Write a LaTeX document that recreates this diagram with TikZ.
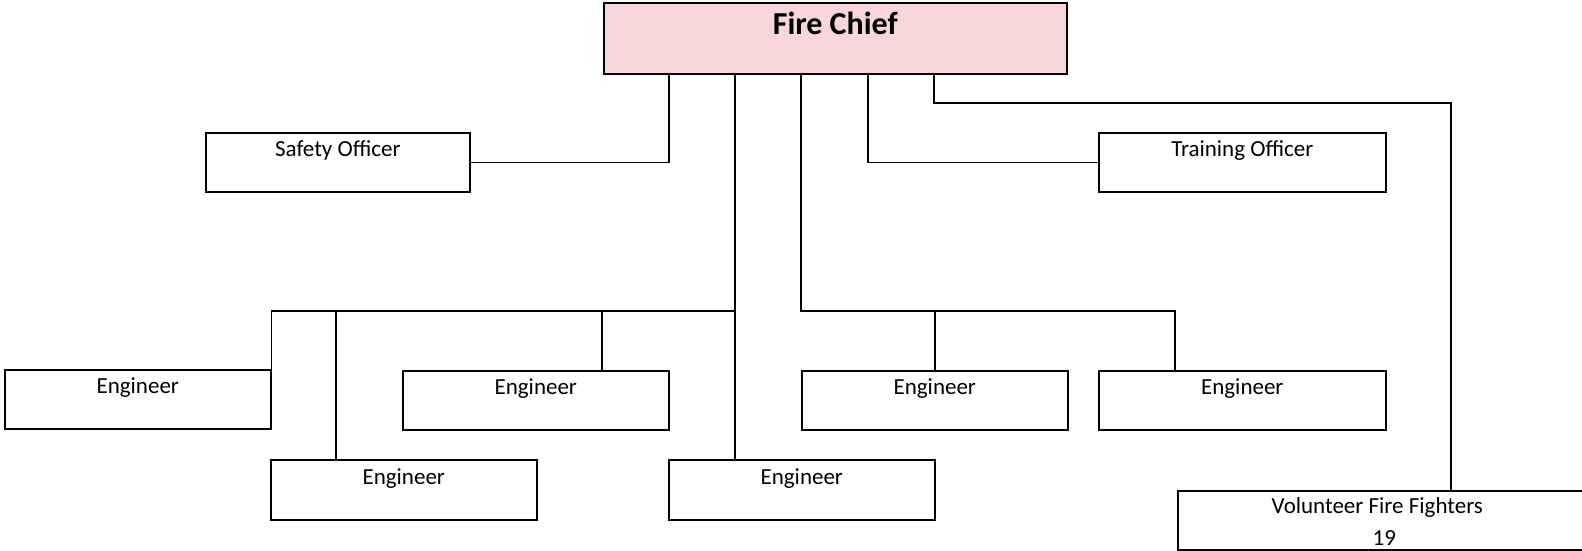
\documentclass[tikz,border=0pt]{standalone}
\usepackage{fontspec}
\setmainfont{Carlito}
\definecolor{chiefpink}{RGB}{248,214,220}
\begin{document}
\begin{tikzpicture}[x=1pt,y=-1pt,
  box/.style={draw=black, line width=1.6pt, rectangle, inner sep=0pt, anchor=north west,
    minimum height=59pt, text height=24pt, text depth=35pt,
    font=\fontsize{23}{32}\selectfont},
  conn/.style={draw=black, line width=1.6pt}]
\useasboundingbox[fill=white] (0,0) rectangle (1582,551);
% boxes
\node[box, fill=chiefpink, minimum width=463pt, minimum height=71pt, text height=32pt, text depth=39pt,
      font=\fontsize{32}{38}\selectfont\bfseries] (chief) at (603,2) {Fire Chief};
\node[box, minimum width=264pt] (safety) at (205,132) {Safety Officer};
\node[box, minimum width=287pt] (training) at (1098,132) {Training Officer};
\node[box, minimum width=266pt] (e1) at (4,369) {Engineer};
\node[box, minimum width=266pt] (e2) at (402,370) {Engineer};
\node[box, minimum width=266pt] (e3) at (801,370) {Engineer};
\node[box, minimum width=287pt] (e4) at (1098,370) {Engineer};
\node[box, minimum width=266pt, minimum height=60pt] (e5) at (270,459) {Engineer};
\node[box, minimum width=266pt, minimum height=60pt] (e6) at (668,459) {Engineer};
\node[box, minimum width=413pt, text height=55pt, text depth=4pt, align=center] (vol) at (1177,490) {Volunteer Fire Fighters\hspace*{14pt}\\19};
% helper coordinates
\coordinate (k1) at (669,0);
\coordinate (k2) at (735,0);
\coordinate (k3) at (801,0);
\coordinate (k5) at (868,0);
\coordinate (k6) at (934,0);
\coordinate (k336) at (336,0);
\coordinate (k602) at (602,0);
\coordinate (k1175) at (1175,0);
\coordinate (vbend) at (1451,103);
\coordinate (b1) at (735,311);
\coordinate (b2) at (801,311);
% connectors
\draw[conn] (chief.south -| k1) |- (safety.east);
\draw[conn] (chief.south -| k5) |- (training.west);
\draw[conn] (chief.south -| k6) |- (vbend) -- (vol.north -| vbend);
\draw[conn] (chief.south -| k2) -- (e6.north -| k2);
\draw[conn] (b1) -| (e1.north east);
\draw[conn] (b1 -| k336) -- (e5.north -| k336);
\draw[conn] (b1 -| k602) -- (e2.north -| k602);
\draw[conn] (chief.south -| k3) |- (b2 -| k1175) -- (e4.north -| k1175);
\draw[conn] (b2 -| e3.north) -- (e3.north);
\end{tikzpicture}
\end{document}
